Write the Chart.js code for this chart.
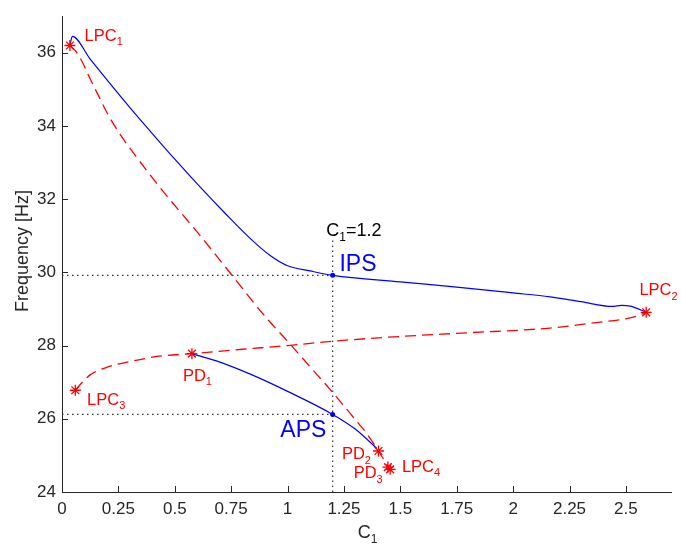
<!DOCTYPE html>
<html>
<head>
<meta charset="utf-8">
<script src="https://cdn.jsdelivr.net/npm/chart.js@4"></script>
<style>
  html, body { margin: 0; padding: 0; background: #ffffff; }
  #wrap { width: 681px; height: 550px; }
</style>
</head>
<body>
<div id="wrap"><canvas id="c" width="681" height="550"></canvas></div>
<script>
// ---------- tick labels ----------
const xTicks = [0, 0.25, 0.5, 0.75, 1, 1.25, 1.5, 1.75, 2, 2.25, 2.5];
const xTickLabels = ['0', '0.25', '0.5', '0.75', '1', '1.25', '1.5', '1.75', '2', '2.25', '2.5'];
const yTicks = [24, 26, 28, 30, 32, 34, 36];
const yTickLabels = ['24', '26', '28', '30', '32', '34', '36'];

// ---------- in-phase solution branch (blue, upper) ----------
const ipsC1   = [0.035, 0.046, 0.125, 0.214, 0.303, 0.391, 0.502, 0.613, 0.724, 0.834, 0.923, 1.0, 1.1, 1.2, 1.5, 1.75, 2.0, 2.164, 2.3, 2.44, 2.48, 2.52, 2.59];
const ipsFreq = [36.2, 36.45, 35.83, 35.15, 34.49, 33.86, 33.08, 32.33, 31.61, 30.93, 30.46, 30.18, 30.04, 29.92, 29.74, 29.60, 29.44, 29.33, 29.20, 29.07, 29.10, 29.08, 28.91];

// ---------- anti-phase solution branch (blue, lower) ----------
const apsC1   = [0.576, 0.70, 0.835, 1.0, 1.2, 1.3, 1.396];
const apsFreq = [27.78, 27.55, 27.22, 26.75, 26.12, 25.72, 25.19];

// ---------- unstable branch LPC1 -> LPC4 (red dashed) ----------
const unstAC1   = [0.035, 0.06, 0.09, 0.12, 0.16, 0.205, 0.26, 0.3, 0.45, 0.6, 0.75, 0.9, 1.0, 1.1, 1.2, 1.3, 1.352, 1.403, 1.445, 1.455];
const unstAFreq = [36.2, 36.05, 35.75, 35.35, 34.85, 34.3, 33.75, 33.4, 32.2, 31.1, 29.95, 28.8, 28.12, 27.42, 26.72, 25.98, 25.59, 25.12, 24.70, 24.60];

// ---------- unstable branch LPC3 -> LPC2 (red dashed) ----------
const unstBC1   = [0.059, 0.09, 0.125, 0.2, 0.3, 0.43, 0.576, 0.8, 1.0, 1.2, 1.5, 1.8, 2.164, 2.34, 2.54, 2.59];
const unstBFreq = [26.78, 27.0, 27.2, 27.41, 27.56, 27.71, 27.78, 27.9, 28.0, 28.12, 28.25, 28.35, 28.48, 28.61, 28.79, 28.91];

// ---------- bifurcation points (red asterisks) ----------
const bifNames = ['LPC1', 'LPC2', 'LPC3', 'LPC4', 'PD1', 'PD2', 'PD3'];
const bifC1    = [0.035, 2.59, 0.059, 1.455, 0.576, 1.403, 1.445];
const bifFreq  = [36.2, 28.91, 26.78, 24.62, 27.78, 25.12, 24.68];

// ---------- operating points at C1 = 1.2 ----------
const opC1   = [1.2, 1.2];
const opFreq = [29.92, 26.12];
const guideTopFreq = 30.9;

function pts(xs, ys) { return xs.map((x, i) => ({ x: x, y: ys[i] })); }

const FONT = "'Liberation Sans', Arial, Helvetica, sans-serif";
const AXIS_COL = '#262626';

const annotations = [
  { main: 'LPC', sub: '1', rest: '', x: 0.100, y: 36.33, color: '#ff0000', size: 16.5 },
  { main: 'LPC', sub: '2', rest: '', x: 2.560, y: 29.38, color: '#ff0000', size: 16.5 },
  { main: 'LPC', sub: '3', rest: '', x: 0.111, y: 26.39, color: '#ff0000', size: 16.5 },
  { main: 'LPC', sub: '4', rest: '', x: 1.507, y: 24.56, color: '#ff0000', size: 16.5 },
  { main: 'PD',  sub: '1', rest: '', x: 0.536, y: 27.04, color: '#ff0000', size: 16.5 },
  { main: 'PD',  sub: '2', rest: '', x: 1.241, y: 24.89, color: '#ff0000', size: 16.5 },
  { main: 'PD',  sub: '3', rest: '', x: 1.293, y: 24.38, color: '#ff0000', size: 16.5 },
  { main: 'IPS', sub: '',  rest: '', x: 1.230, y: 30.05, color: '#0000ff', size: 23 },
  { main: 'APS', sub: '',  rest: '', x: 0.968, y: 25.49, color: '#0000ff', size: 23 },
  { main: 'C',   sub: '1', rest: '=1.2', x: 1.172, y: 31.0, color: '#000000', size: 18 }
];

function drawSubText(ctx, main, sub, rest, x, y, size, color) {
  ctx.save();
  ctx.fillStyle = color;
  ctx.textBaseline = 'alphabetic';
  ctx.textAlign = 'left';
  ctx.font = size + 'px ' + FONT;
  ctx.fillText(main, x, y);
  let w = ctx.measureText(main).width;
  if (sub) {
    const ss = Math.round(size * 0.68);
    ctx.font = ss + 'px ' + FONT;
    ctx.fillText(sub, x + w, y + size * 0.28);
    w += ctx.measureText(sub).width;
  }
  if (rest) {
    ctx.font = size + 'px ' + FONT;
    ctx.fillText(rest, x + w, y);
  }
  ctx.restore();
}

const decorPlugin = {
  id: 'decor',
  afterDatasetsDraw(chart) {
    const ctx = chart.ctx;
    const xs = chart.scales.x, ys = chart.scales.y;
    annotations.forEach(a => {
      drawSubText(ctx, a.main, a.sub, a.rest, xs.getPixelForValue(a.x), ys.getPixelForValue(a.y), a.size, a.color);
    });
  },
  afterDraw(chart) {
    const ctx = chart.ctx;
    const xs = chart.scales.x, ys = chart.scales.y;
    const ca = chart.chartArea;
    ctx.save();
    ctx.strokeStyle = AXIS_COL;
    ctx.lineWidth = 1;
    xTicks.forEach(v => {
      const px = Math.round(xs.getPixelForValue(v)) + 0.5;
      ctx.beginPath(); ctx.moveTo(px, ca.bottom); ctx.lineTo(px, ca.bottom - 6); ctx.stroke();
    });
    yTicks.forEach(v => {
      const py = Math.round(ys.getPixelForValue(v)) + 0.5;
      ctx.beginPath(); ctx.moveTo(ca.left, py); ctx.lineTo(ca.left + 6, py); ctx.stroke();
    });
    ctx.restore();
    ctx.save();
    ctx.fillStyle = AXIS_COL;
    ctx.font = '18px ' + FONT;
    ctx.textAlign = 'center';
    ctx.textBaseline = 'middle';
    ctx.translate(23, 251);
    ctx.rotate(-Math.PI / 2);
    ctx.fillText('Frequency [Hz]', 0, 0);
    ctx.restore();
    ctx.save();
    ctx.font = '18px ' + FONT;
    const wC = ctx.measureText('C').width;
    ctx.font = '12px ' + FONT;
    const w1 = ctx.measureText('1').width;
    ctx.restore();
    drawSubText(ctx, 'C', '1', '', (ca.left + ca.right) / 2 - (wC + w1) / 2 + 1, 538, 18, AXIS_COL);
  }
};

const redDash = [11, 6];

new Chart(document.getElementById('c'), {
  type: 'scatter',
  data: {
    datasets: [
      { label: 'bif', data: pts(bifC1, bifFreq), showLine: false, pointStyle: 'star', pointRadius: 5.5,
        borderColor: '#ff0000', backgroundColor: '#ff0000', pointBorderWidth: 1.3 },
      { label: 'op', data: pts(opC1, opFreq), showLine: false, pointStyle: 'circle', pointRadius: 2.5,
        borderColor: '#0000ff', backgroundColor: '#0000ff', pointBorderWidth: 0 },
      { label: 'ips', data: pts(ipsC1, ipsFreq), showLine: true, borderColor: '#0000ff', borderWidth: 1.2,
        pointRadius: 0, cubicInterpolationMode: 'monotone' },
      { label: 'aps', data: pts(apsC1, apsFreq), showLine: true, borderColor: '#0000ff', borderWidth: 1.2,
        pointRadius: 0, cubicInterpolationMode: 'monotone' },
      { label: 'unstA', data: pts(unstAC1, unstAFreq), showLine: true, borderColor: '#ff0000', borderWidth: 1.3,
        borderDash: redDash, pointRadius: 0, cubicInterpolationMode: 'monotone' },
      { label: 'unstB', data: pts(unstBC1, unstBFreq), showLine: true, borderColor: '#ff0000', borderWidth: 1.3,
        borderDash: redDash, pointRadius: 0, cubicInterpolationMode: 'monotone' },
      { label: 'gIPS', data: [{ x: 0, y: opFreq[0] }, { x: opC1[0], y: opFreq[0] }], showLine: true,
        borderColor: '#333333', borderWidth: 1.2, borderDash: [1.5, 3.5], pointRadius: 0 },
      { label: 'gAPS', data: [{ x: 0, y: opFreq[1] }, { x: opC1[1], y: opFreq[1] }], showLine: true,
        borderColor: '#333333', borderWidth: 1.2, borderDash: [1.5, 3.5], pointRadius: 0 },
      { label: 'gV', data: [{ x: opC1[0], y: 24 }, { x: opC1[0], y: guideTopFreq }], showLine: true,
        borderColor: '#333333', borderWidth: 1.2, borderDash: [1.5, 3.5], pointRadius: 0 }
    ]
  },
  options: {
    responsive: false,
    animation: false,
    devicePixelRatio: 1,
    layout: { padding: { left: 0, right: 10, top: 11, bottom: 0 } },
    plugins: { legend: { display: false }, tooltip: { enabled: false } },
    scales: {
      x: {
        type: 'linear', min: 0, max: 2.7,
        grid: { display: true, drawOnChartArea: false, drawTicks: false },
        border: { display: true, color: AXIS_COL, width: 1 },
        afterBuildTicks: s => { s.ticks = xTicks.map(v => ({ value: v })); },
        afterFit: s => { s.height = 58; },
        ticks: {
          color: AXIS_COL, padding: 7, maxRotation: 0, autoSkip: false,
          font: { family: FONT, size: 17 },
          callback: (v) => { const i = xTicks.indexOf(v); return i >= 0 ? xTickLabels[i] : ''; }
        }
      },
      y: {
        type: 'linear', min: 24, max: 37,
        grid: { display: true, drawOnChartArea: false, drawTicks: false },
        border: { display: true, color: AXIS_COL, width: 1 },
        afterBuildTicks: s => { s.ticks = yTicks.map(v => ({ value: v })); },
        afterFit: s => { s.width = 62; },
        ticks: {
          color: AXIS_COL, padding: 6, autoSkip: false,
          font: { family: FONT, size: 17 },
          callback: (v) => { const i = yTicks.indexOf(v); return i >= 0 ? yTickLabels[i] : ''; }
        }
      }
    }
  },
  plugins: [decorPlugin]
});
</script>
</body>
</html>
